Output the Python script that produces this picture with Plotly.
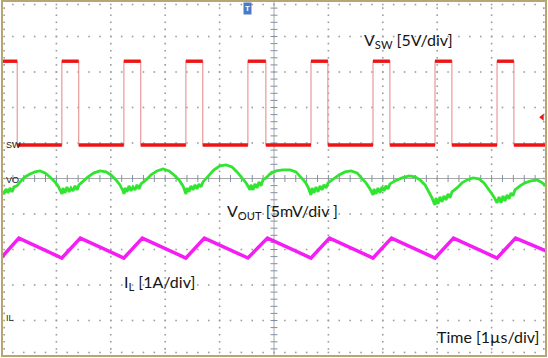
import numpy as np
import plotly.graph_objects as go

# ---------------- data (time in µs, 1 µs/div) ----------------
# switch node voltage V_SW (V): step levels at edge times
sw_t = [-5.00, -4.72, -3.90, -3.59, -2.76, -2.45, -1.62, -1.31, -0.48, -0.15,
        0.68, 0.99, 1.82, 2.13, 2.96, 3.27, 4.10, 4.41, 5.00]
sw_v = [11.8, 0.0, 11.8, 0.0, 11.8, 0.0, 11.8, 0.0, 11.8, 0.0,
        11.8, 0.0, 11.8, 0.0, 11.8, 0.0, 11.8, 0.0, 0.0]

# output ripple V_OUT (mV, AC)
vo_t = [
    -5.000, -4.963, -4.926, -4.890, -4.853, -4.816, -4.779, -4.724, -4.651, -4.577,
    -4.485, -4.393, -4.301, -4.210, -4.118, -4.044, -3.971, -3.915, -3.897,
    -3.879, -3.842, -3.805, -3.768, -3.732, -3.695, -3.658, -3.621, -3.585, -3.511,
    -3.419, -3.309, -3.199, -3.088, -2.996, -2.904, -2.831, -2.776, -2.757,
    -2.739, -2.702, -2.665, -2.629, -2.592, -2.555, -2.518, -2.482, -2.445, -2.353,
    -2.261, -2.151, -2.040, -1.930, -1.838, -1.746, -1.673, -1.636, -1.618,
    -1.599, -1.563, -1.526, -1.489, -1.452, -1.415, -1.379, -1.342, -1.305, -1.213,
    -1.103, -0.993, -0.882, -0.772, -0.680, -0.588, -0.515, -0.460, -0.441,
    -0.423, -0.386, -0.349, -0.313, -0.276, -0.239, -0.202, -0.147, -0.074, 0.037,
    0.165, 0.294, 0.404, 0.496, 0.570, 0.625, 0.662, 0.680,
    0.699, 0.735, 0.772, 0.809, 0.846, 0.882, 0.919, 0.956, 0.993, 1.085,
    1.195, 1.305, 1.415, 1.526, 1.618, 1.691, 1.765, 1.801, 1.820,
    1.838, 1.875, 1.912, 1.949, 1.985, 2.022, 2.059, 2.096, 2.132, 2.224,
    2.353, 2.482, 2.592, 2.684, 2.776, 2.849, 2.904, 2.941, 2.960,
    2.978, 3.015, 3.051, 3.088, 3.125, 3.162, 3.199, 3.235, 3.272, 3.364,
    3.456, 3.548, 3.658, 3.768, 3.860, 3.934, 4.007, 4.063, 4.099,
    4.136, 4.173, 4.210, 4.246, 4.283, 4.320, 4.357, 4.393, 4.430, 4.522,
    4.614, 4.724, 4.835, 4.908, 5.000]
vo_mv = [
    -1.55, -1.97, -1.27, -1.83, -1.13, -1.69, -0.99, -0.84, -0.14, 0.42,
    0.84, 1.13, 1.27, 0.99, 0.42, -0.14, -0.84, -1.55, -1.97,
    -1.13, -1.83, -0.99, -1.69, -1.13, -1.55, -0.84, -1.41, -0.70, -0.14,
    0.42, 0.99, 1.27, 1.13, 0.70, 0.00, -0.70, -1.55, -1.97,
    -1.13, -1.69, -0.84, -1.55, -0.99, -1.41, -0.70, -1.27, -0.56, 0.00,
    0.70, 1.27, 1.55, 1.27, 0.70, 0.00, -0.84, -1.55, -1.97,
    -1.13, -1.69, -0.84, -1.41, -0.70, -1.27, -0.56, -0.99, -0.28, 0.56,
    1.41, 1.97, 2.11, 1.83, 1.13, 0.28, -0.42, -1.13, -1.41,
    -0.70, -1.41, -0.56, -1.13, -0.28, -0.84, 0.00, 0.28, 0.84, 1.27,
    1.41, 1.41, 1.13, 0.42, -0.28, -0.99, -1.69, -2.11,
    -1.13, -1.83, -0.99, -1.69, -0.84, -1.41, -0.70, -1.13, -0.42, 0.14,
    0.70, 1.13, 1.27, 0.99, 0.28, -0.42, -1.27, -1.83, -2.11,
    -1.27, -1.97, -1.13, -1.83, -0.99, -1.55, -0.84, -1.27, -0.56, -0.14,
    0.28, 0.56, 0.42, 0.00, -0.70, -1.69, -2.53, -3.24, -3.52,
    -2.53, -3.38, -2.39, -3.10, -2.25, -2.82, -1.97, -2.53, -1.69, -1.13,
    -0.42, 0.00, 0.28, 0.14, -0.42, -1.13, -1.97, -2.67, -3.24,
    -2.39, -3.24, -2.25, -2.96, -2.11, -2.67, -1.83, -2.25, -1.41, -0.84,
    -0.42, -0.14, 0.00, -0.28, -0.84]

# inductor current I_L (A)
il_t = [-5.00, -4.69, -3.90, -3.56, -2.76, -2.42, -1.62, -1.28, -0.48, -0.12,
        0.68, 1.02, 1.82, 2.16, 2.96, 3.30, 4.10, 4.44, 5.00]
il_a = [1.72, 2.25, 1.69, 2.25, 1.69, 2.25, 1.69, 2.25, 1.69, 2.25,
        1.69, 2.25, 1.69, 2.25, 1.69, 2.25, 1.69, 2.25, 1.89]

labels = ["V<sub>SW</sub> [5V/div]", "V<sub>OUT</sub> [5mV/div ]",
          "I<sub>L</sub> [1A/div]", "Time [1µs/div]"]
ch_names = ["SW", "VO", "IL"]

# channel settings: scale per division, position (div above centre)
SW_SCALE, SW_POS = 5.0, 0.944
VO_SCALE, VO_POS = 5.0, -0.04
IL_SCALE, IL_POS = 1.0, -3.93
TRIG_T = -0.48
TRIG_LEVEL = 3.9


def rng(scale, pos):
    return [(-5 - pos) * scale, (5 - pos) * scale]


RED = "#ec1414"
GREEN = "#30e430"
MAG = "#f41ef4"
GRID = "#9c9c9c"

fig = go.Figure()

# ---------------- graticule ----------------
minor = np.round(np.arange(-5, 5.0001, 0.2), 3)
gx, gy = [], []
for i in [-4, -3, -2, -1, 1, 2, 3, 4]:
    for m in minor:
        gx.append(i); gy.append(m)      # vertical dotted lines
        gx.append(m); gy.append(i)      # horizontal dotted lines
for m in minor:
    gx += [m, m]; gy += [4.9, -4.9]
    gx += [-4.96, 4.96]; gy += [m, m]
fig.add_trace(go.Scatter(x=gx, y=gy, mode="markers", hoverinfo="skip",
                         marker=dict(symbol="square", size=1.6, color=GRID, line_width=0),
                         showlegend=False))
# centre-line ticks
fig.add_trace(go.Scatter(x=[0] * len(minor), y=minor, mode="markers", hoverinfo="skip",
                         marker=dict(symbol="line-ew", size=5, line=dict(width=1, color="#8090a8")),
                         showlegend=False))
fig.add_trace(go.Scatter(x=minor, y=[0] * len(minor), mode="markers", hoverinfo="skip",
                         marker=dict(symbol="line-ns", size=5, line=dict(width=1, color="#8090a8")),
                         showlegend=False))

# ---------------- waveforms ----------------
fig.add_trace(go.Scatter(x=il_t, y=il_a, yaxis="y4", mode="lines",
                         line=dict(color=MAG, width=3.5), showlegend=False))
fig.add_trace(go.Scatter(x=vo_t, y=vo_mv, yaxis="y3", mode="lines",
                         line=dict(color=GREEN, width=2.8), showlegend=False))
# SW: thin edges + thick levels
fig.add_trace(go.Scatter(x=sw_t, y=sw_v, yaxis="y2", mode="lines", line_shape="hv",
                         line=dict(color="#e89a9a", width=1.2), showlegend=False))
lx, ly = [], []
for k in range(len(sw_t) - 1):
    lx += [sw_t[k], sw_t[k + 1], None]
    ly += [sw_v[k], sw_v[k], None]
fig.add_trace(go.Scatter(x=lx, y=ly, yaxis="y2", mode="lines",
                         line=dict(color=RED, width=3.4), showlegend=False))

# trigger level marker (right)
fig.add_trace(go.Scatter(x=[4.93], y=[TRIG_LEVEL], yaxis="y2", mode="markers",
                         marker=dict(symbol="triangle-left", size=6, color=RED),
                         cliponaxis=False, showlegend=False))

shapes = [
    dict(type="line", xref="x", yref="y", x0=0, x1=0, y0=-5, y1=5,
         line=dict(color="#a8a8a8", width=1), layer="below"),
    dict(type="line", xref="x", yref="y", x0=-5, x1=5, y0=0, y1=0,
         line=dict(color="#a8a8a8", width=1), layer="below"),
    dict(type="rect", xref="paper", yref="paper", x0=0, x1=1, y0=0, y1=1,
         line=dict(color="#b8a672", width=2)),
]

annotations = [
    dict(x=1.62, y=3.90, text=labels[0], xanchor="left", yanchor="middle"),
    dict(x=-0.90, y=-0.92, text=labels[1], xanchor="left", yanchor="middle"),
    dict(x=-2.79, y=-2.92, text=labels[2], xanchor="left", yanchor="middle"),
    dict(x=2.96, y=-4.44, text=labels[3], xanchor="left", yanchor="middle"),
]
for a in annotations:
    a.update(xref="x", yref="y", showarrow=False,
             font=dict(family="Lato, Liberation Sans, sans-serif", size=16, color="#151515"))

for name, yref in zip(ch_names, ["y2", "y3", "y4"]):
    annotations.append(dict(x=0, xref="paper", y=0, yref=yref, text=name,
                            xanchor="left", yanchor="middle", xshift=2, showarrow=False,
                            font=dict(family="Liberation Sans, Arial, sans-serif",
                                      size=9, color="#202020")))

# trigger position marker (top)
annotations.append(dict(x=TRIG_T, xref="x", y=1, yref="paper", text="<b>T</b>",
                        xanchor="center", yanchor="top", yshift=-1, showarrow=False,
                        bgcolor="#4a7cc4", borderpad=1,
                        font=dict(family="Liberation Sans, Arial", size=8, color="white")))

fig.update_layout(
    width=548, height=358,
    margin=dict(l=2, r=2, t=1, b=2),
    paper_bgcolor="white", plot_bgcolor="white",
    xaxis=dict(range=[-5, 5], visible=False, showgrid=False, zeroline=False),
    yaxis=dict(range=[-5, 5], visible=False, showgrid=False, zeroline=False),
    yaxis2=dict(range=rng(SW_SCALE, SW_POS), overlaying="y", visible=False),
    yaxis3=dict(range=rng(VO_SCALE, VO_POS), overlaying="y", visible=False),
    yaxis4=dict(range=rng(IL_SCALE, IL_POS), overlaying="y", visible=False),
    shapes=shapes, annotations=annotations,
)

fig.write_html("out.html", config={"displayModeBar": False},
               post_script="document.body.style.margin='0';document.body.style.overflow='hidden';")
